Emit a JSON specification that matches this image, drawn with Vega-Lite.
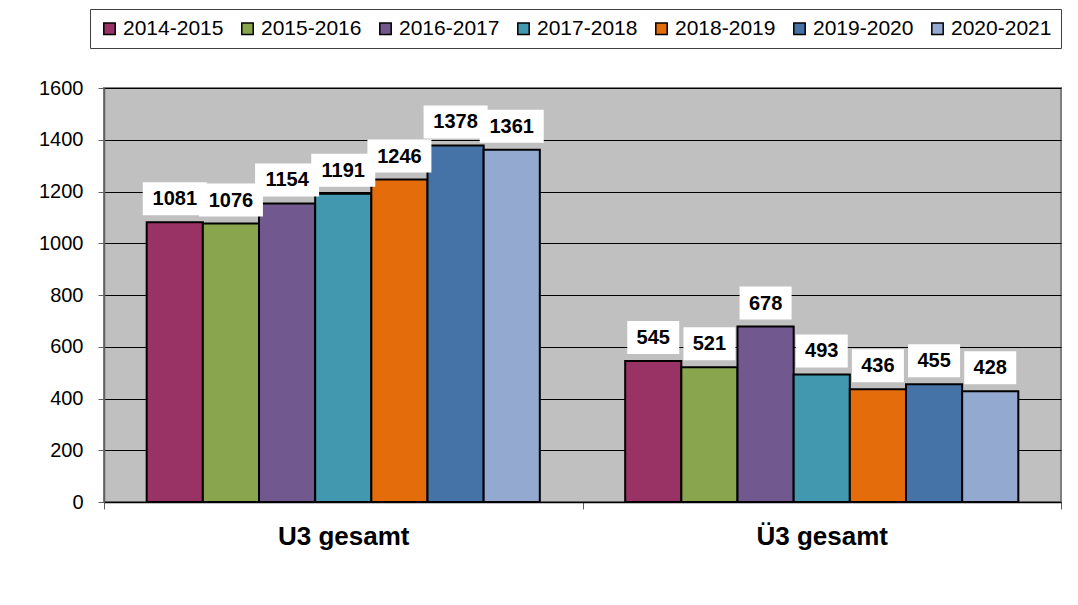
{
  "$schema": "https://vega.github.io/schema/vega-lite/v6.json",
  "autosize": "none",
  "width": 957,
  "height": 414,
  "padding": {"left": 104, "top": 88, "right": 17, "bottom": 103},
  "background": "white",
  "config": {
    "font": "Liberation Sans",
    "view": {"fill": "#C0C0C0", "stroke": "#808080", "strokeWidth": 2}
  },
  "data": {
    "values": [
      {"cat": "U3 gesamt", "year": "2014-2015", "value": 1081},
      {"cat": "U3 gesamt", "year": "2015-2016", "value": 1076},
      {"cat": "U3 gesamt", "year": "2016-2017", "value": 1154},
      {"cat": "U3 gesamt", "year": "2017-2018", "value": 1191},
      {"cat": "U3 gesamt", "year": "2018-2019", "value": 1246},
      {"cat": "U3 gesamt", "year": "2019-2020", "value": 1378},
      {"cat": "U3 gesamt", "year": "2020-2021", "value": 1361},
      {"cat": "Ü3 gesamt", "year": "2014-2015", "value": 545},
      {"cat": "Ü3 gesamt", "year": "2015-2016", "value": 521},
      {"cat": "Ü3 gesamt", "year": "2016-2017", "value": 678},
      {"cat": "Ü3 gesamt", "year": "2017-2018", "value": 493},
      {"cat": "Ü3 gesamt", "year": "2018-2019", "value": 436},
      {"cat": "Ü3 gesamt", "year": "2019-2020", "value": 455},
      {"cat": "Ü3 gesamt", "year": "2020-2021", "value": 428}
    ]
  },
  "encoding": {
    "x": {
      "field": "cat", "type": "nominal",
      "scale": {"paddingInner": 0, "paddingOuter": 0},
      "axis": {
        "title": null, "labelAngle": 0, "labelFontSize": 26, "labelFontWeight": "bold",
        "labelColor": "black", "tickBand": "extent", "tickSize": 7, "tickColor": "#606060",
        "labelPadding": 14, "domainColor": "black", "domainWidth": 1.5, "grid": false
      }
    },
    "xOffset": {
      "field": "year", "type": "nominal",
      "scale": {"paddingInner": 0, "paddingOuter": 0.76}
    },
    "y": {
      "field": "value", "type": "quantitative",
      "scale": {"domain": [0, 1600], "nice": false},
      "axis": {
        "title": null, "values": [0, 200, 400, 600, 800, 1000, 1200, 1400, 1600], "format": "d",
        "labelFontSize": 20, "labelColor": "black", "tickSize": 6, "tickColor": "#606060",
        "labelPadding": 15, "domainColor": "#606060", "domainWidth": 1.5,
        "grid": true, "gridColor": "black", "gridWidth": 1, "gridOpacity": 1
      }
    }
  },
  "layer": [
    {
      "mark": {"type": "bar", "stroke": "black", "strokeWidth": 2},
      "encoding": {
        "color": {
          "field": "year", "type": "nominal",
          "scale": {
            "domain": ["2014-2015", "2015-2016", "2016-2017", "2017-2018", "2018-2019", "2019-2020", "2020-2021"],
            "range": ["#993366", "#89A54E", "#71588F", "#4198AF", "#E46C0A", "#4572A7", "#93A9CF"]
          },
          "legend": {
            "title": null, "orient": "none", "legendX": -14, "legendY": -79,
            "direction": "horizontal", "columns": 7, "fillColor": "white",
            "strokeColor": "#404040", "padding": 9, "labelFontSize": 21, "labelColor": "black",
            "symbolType": "square", "symbolSize": 130, "symbolStrokeColor": "black",
            "symbolStrokeWidth": 1.5, "columnPadding": 13, "labelOffset": 3
          }
        }
      }
    },
    {
      "mark": {"type": "bar", "color": "white", "yOffset": -40, "y2Offset": -7},
      "encoding": {
        "y2": {"field": "value"},
        "size": {
          "field": "cat", "type": "nominal",
          "scale": {"domain": ["U3 gesamt", "Ü3 gesamt"], "range": [64, 52]},
          "legend": null
        }
      }
    },
    {
      "mark": {"type": "text", "yOffset": -23, "baseline": "middle", "fontSize": 20, "fontWeight": "bold", "color": "black"},
      "encoding": {
        "text": {"field": "value", "type": "quantitative"}
      }
    }
  ]
}
